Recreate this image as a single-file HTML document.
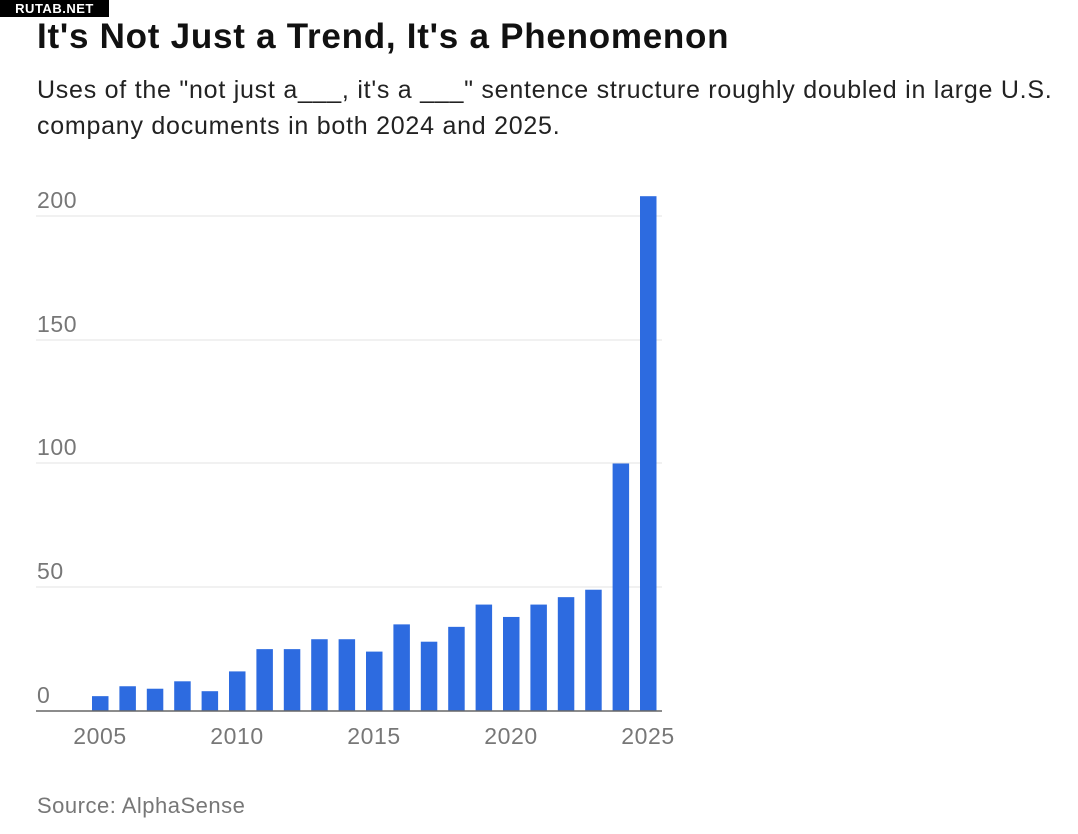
<!DOCTYPE html>
<html><head><meta charset="utf-8"><style>
body{margin:0;background:#fff;width:1078px;height:834px;overflow:hidden;font-family:"Liberation Sans",sans-serif;position:relative}
.logo{position:absolute;left:0;top:0;width:109px;height:17px;background:#000;color:#fff;font-weight:bold;font-size:13px;line-height:17px;text-align:center;letter-spacing:0.5px}
h1{position:absolute;left:37px;top:17px;margin:0;font-size:35px;font-weight:bold;color:#111;letter-spacing:0.75px;white-space:nowrap}
.sub{position:absolute;left:37px;top:72px;font-size:25px;line-height:36px;color:#222;width:1040px;letter-spacing:0.75px}
.src{position:absolute;left:37px;top:793px;font-size:22px;color:#777;letter-spacing:0.5px}
</style></head><body>
<div class="logo">RUTAB.NET</div>
<h1>It's Not Just a Trend, It's a Phenomenon</h1>
<div class="sub">Uses of the "not just a___, it's a ___" sentence structure roughly doubled in large U.S.<br>company documents in both 2024 and 2025.</div>
<svg width="1078" height="834" style="position:absolute;left:0;top:0">
<g stroke="#e3e3e3" stroke-width="1">
<line x1="36" x2="662" y1="216" y2="216"/><line x1="36" x2="662" y1="340" y2="340"/>
<line x1="36" x2="662" y1="463" y2="463"/><line x1="36" x2="662" y1="587" y2="587"/>
</g>
<g font-size="23" fill="#777" font-family="Liberation Sans, sans-serif" letter-spacing="0.6">
<text x="37" y="208">200</text><text x="37" y="332">150</text><text x="37" y="455">100</text><text x="37" y="579">50</text><text x="37" y="703">0</text>
<g text-anchor="middle"><text x="100" y="744">2005</text><text x="237" y="744">2010</text><text x="374" y="744">2015</text><text x="511" y="744">2020</text><text x="648" y="744">2025</text></g>
</g>
<g fill="#2d6be0" id="bars"></g>
<line x1="36" x2="662" y1="711" y2="711" stroke="#666" stroke-width="1.5"/>
</svg>
<script>
var v=[6,10,9,12,8,16,25,25,29,29,24,35,28,34,43,38,43,46,49,100,208],g=document.getElementById('bars'),s='';
v.forEach(function(d,i){var x=92+i*27.4,h=d*2.475;s+='<rect x="'+x+'" y="'+(711-h)+'" width="16.5" height="'+h+'"/>';});
g.innerHTML=s;
</script>
<div class="src">Source: AlphaSense</div>
</body></html>
